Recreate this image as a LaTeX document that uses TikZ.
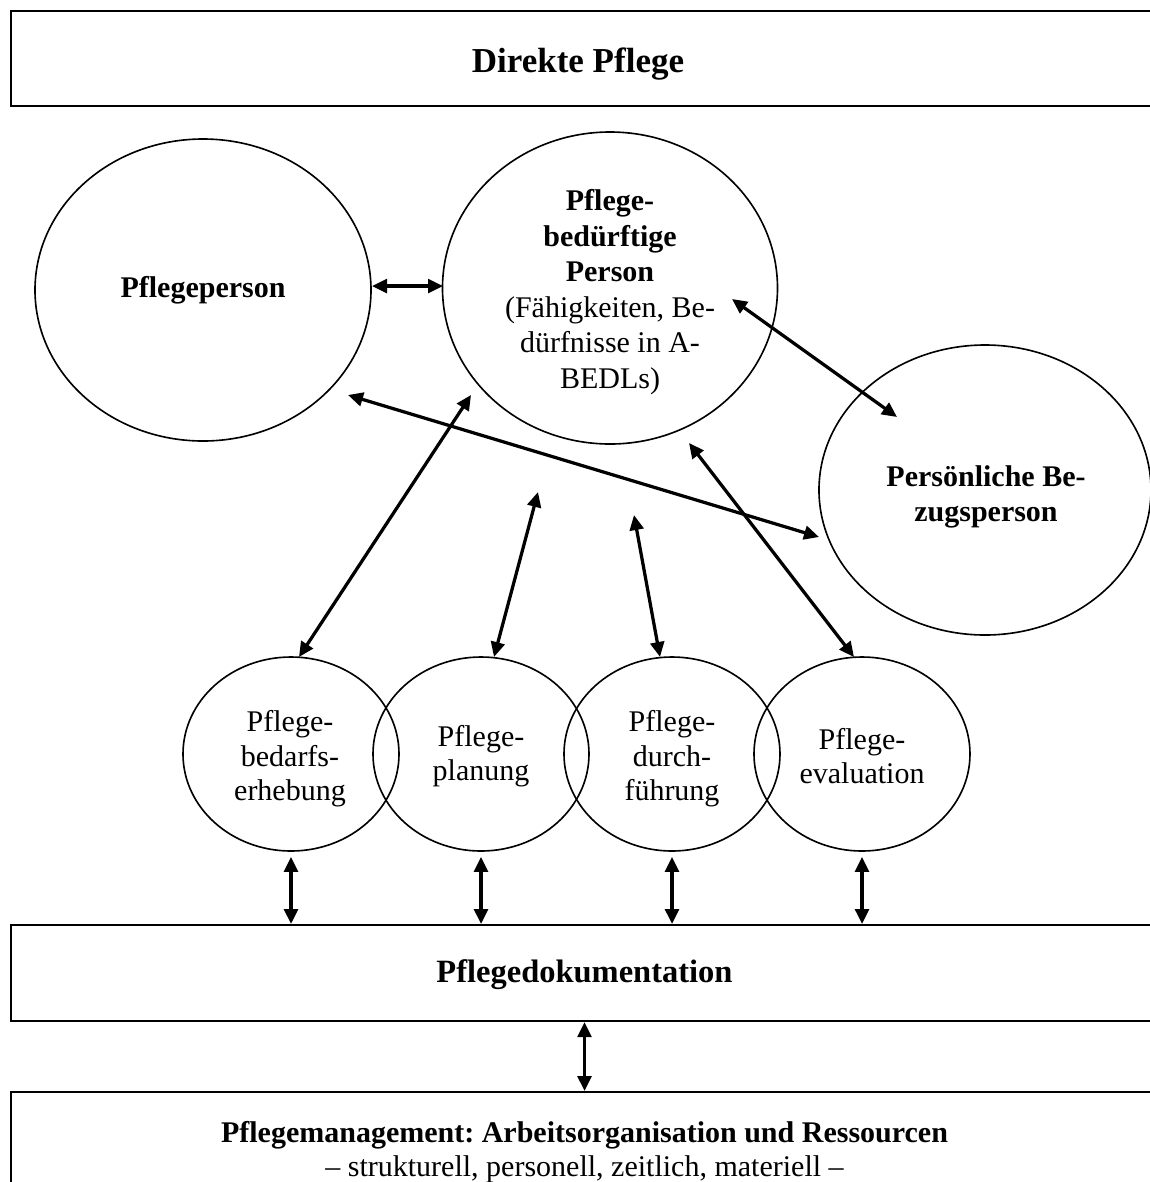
\documentclass[tikz,border=0pt]{standalone}
\usepackage{fontspec}
\setmainfont{Liberation Serif}
\usetikzlibrary{shapes.geometric,arrows.meta}
\frenchspacing
\begin{document}
\begin{tikzpicture}[x=0.4pt,y=-0.4pt,
  font=\fontsize{12}{13.8}\selectfont,
  bigell/.style={ellipse,draw,line width=0.65pt,inner sep=0pt},
  smallell/.style={ellipse,draw,line width=0.65pt,inner sep=0pt,
    minimum width=86.4pt,minimum height=77.6pt},
  box/.style={rectangle,draw,line width=0.8pt,inner sep=0pt,
    minimum width=458.8pt},
  txt/.style={inner sep=0pt,align=center},
  link/.style={line width=1.3pt,{Triangle[length=6pt,width=5.5pt]}-{Triangle[length=6pt,width=5.5pt]}}]
\clip (0,0) rectangle (1150,1182);

% frames
\node[box,minimum height=38pt] (dp) at (584.5,58.5) {};
\node[txt,font=\fontsize{14}{16}\selectfont\bfseries] (dpt) at (578,64) {Direkte Pflege};
\node[box,minimum height=38.4pt] (doc) at (584.5,973) {};
\node[txt,font=\fontsize{13}{15}\selectfont\bfseries] (doct) at (584.5,975) {Pflegedokumentation};
\node[box,minimum height=43.2pt] (mg) at (584.5,1146) {};
\node[txt] (mgt) at (584.5,1152)
  {\textbf{Pflegemanagement: Arbeitsorganisation und Ressourcen}\\– strukturell, personell, zeitlich, materiell –};

% persons
\node[bigell,minimum width=134.4pt,minimum height=120.8pt] (pp) at (203,290) {};
\node[txt,font=\fontsize{12}{13.8}\selectfont\bfseries] (ppt) at (203,290) {Pflegeperson};
\node[bigell,minimum width=134pt,minimum height=124.8pt] (pb) at (610,288) {};
\node[txt,font=\fontsize{12}{14.2}\selectfont] (pbt) at (610,292)
  {\textbf{Pflege-}\\\textbf{bedürftige}\\\textbf{Person}\\(Fähigkeiten, Be-\\dürfnisse in A-\\BEDLs)};
\node[bigell,minimum width=132.8pt,minimum height=116pt] (bz) at (985,490) {};
\node[txt,font=\fontsize{12}{13.8}\selectfont\bfseries] (bzt) at (986,497) {Persönliche Be-\\zugsperson};

% process steps
\node[smallell] (s1) at (291,754) {};
\node[smallell] (s2) at (481,754) {};
\node[smallell] (s3) at (672,754) {};
\node[smallell] (s4) at (862,754) {};
\node[txt] (s1t) at (290,759) {Pflege-\\bedarfs-\\erhebung};
\node[txt] (s2t) at (481,756) {Pflege-\\planung};
\node[txt] (s3t) at (672,759) {Pflege-\\durch-\\führung};
\node[txt] (s4t) at (862,756) {Pflege-\\evaluation};

% relations between persons
\draw[link] ([shift={(169,-4)}]pp.center) -- ([shift={(-167,-2)}]pb.center);
\draw[link] ([shift={(122,11)}]pb.center) -- ([shift={(-88,-73)}]bz.center);
\draw[link] ([shift={(145,105)}]pp.center) -- ([shift={(-166,47)}]bz.center);

% relations between steps and the person in care
\draw[link] ([shift={(8,-97)}]s1.center) -- ([shift={(-139,107)}]pb.center);
\draw[link] ([shift={(13,-97)}]s2.center) -- ([shift={(-72,204)}]pb.center);
\draw[link] ([shift={(-12,-97)}]s3.center) -- ([shift={(24,227)}]pb.center);
\draw[link] ([shift={(-8,-97)}]s4.center) -- ([shift={(79,155)}]pb.center);

% documentation
\foreach \s in {s1,s2,s3,s4}
  \draw[link] ([yshift=-2]\s.south) -- (\s.south |- doc.north);
\draw[link] (doc.south) -- (mg.north);
\end{tikzpicture}
\end{document}
